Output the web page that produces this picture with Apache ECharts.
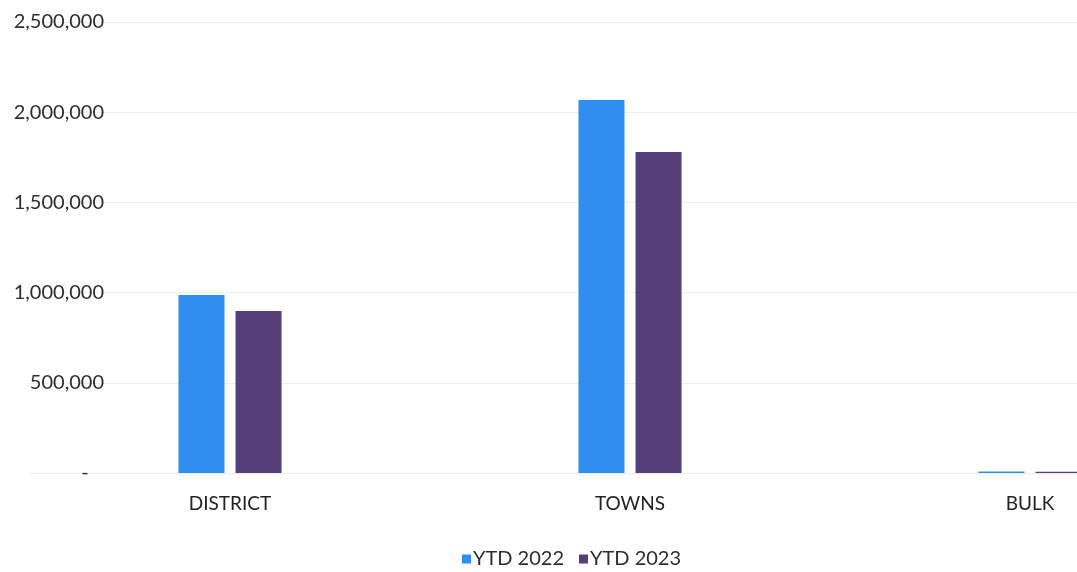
<!DOCTYPE html>
<html>
<head>
<meta charset="utf-8">
<script src="https://cdn.jsdelivr.net/npm/echarts@6/dist/echarts.min.js"></script>
<style>
  html, body { margin: 0; padding: 0; background: #ffffff; overflow: hidden; width: 1077px; height: 572px; }
  /* the drawing is wider than the page, so the right-hand group is cut off */
  #chart { width: 1230px; height: 572px; }
</style>
</head>
<body>
<div id="chart"></div>
<script>
// Year-to-date volumes by customer group
const categories = ['DISTRICT', 'TOWNS', 'BULK'];
const ytd2022 = [987000, 2068000, 8000];
const ytd2023 = [898000, 1779000, 7000];
const seriesNames = ['YTD 2022', 'YTD 2023'];

const chart = echarts.init(document.getElementById('chart'));

// accounting-style ticks: zero shows as a dash set in from the right
const fmt = v => v === 0 ? '-   ' : v.toLocaleString('en-US');

chart.setOption({
  animation: false,
  textStyle: { fontFamily: 'Lato' },
  grid: { left: 30, top: 22, right: 0, bottom: 99, containLabel: false },
  legend: {
    top: 544,
    left: 457,
    itemWidth: 9,
    itemHeight: 9,
    itemGap: 15,
    icon: 'rect',
    textStyle: { fontSize: 20, color: '#2e2e2e', fontFamily: 'Lato', padding: [0, 0, 0, -3] },
    data: seriesNames
  },
  xAxis: {
    type: 'category',
    data: categories,
    axisLine: { show: false },
    axisTick: { show: false },
    axisLabel: { fontSize: 19, color: '#222', margin: 21 }
  },
  yAxis: {
    type: 'value',
    min: 0,
    max: 2500000,
    interval: 500000,
    offset: -78,
    axisLine: { show: false },
    axisTick: { show: false },
    axisLabel: { fontSize: 20, color: '#2e2e2e', margin: 4, formatter: fmt },
    splitLine: { show: true, lineStyle: { color: '#eeeeee', width: 1 } }
  },
  series: [
    {
      name: seriesNames[0],
      type: 'bar',
      data: ytd2022,
      barWidth: 46,
      barGap: '24%',
      itemStyle: { color: '#2f8ff0' }
    },
    {
      name: seriesNames[1],
      type: 'bar',
      data: ytd2023,
      barWidth: 46,
      itemStyle: { color: '#553f78' }
    }
  ]
});
</script>
</body>
</html>
